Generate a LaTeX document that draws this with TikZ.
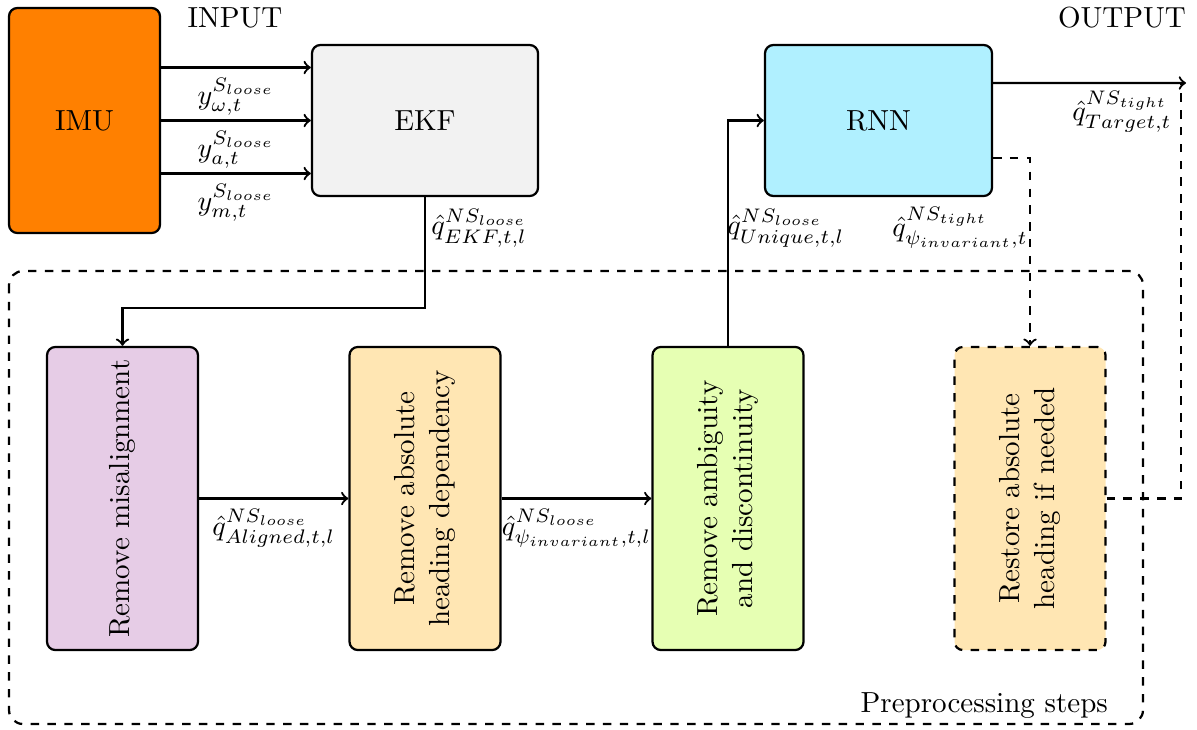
\documentclass[tikz,border=0pt]{standalone}
\usetikzlibrary{calc}
\definecolor{imuorange}{HTML}{FF8000}
\definecolor{ekfgray}{HTML}{F2F2F2}
\definecolor{rnncyan}{HTML}{B0F0FF}
\definecolor{stepviolet}{HTML}{E6CCE6}
\definecolor{steporange}{HTML}{FFE6B3}
\definecolor{steplime}{HTML}{E6FFB3}
\begin{document}
\begin{tikzpicture}[x=0.01253cm,y=-0.01253cm,
  font=\fontsize{10.35}{12.5}\selectfont,
  blockbox/.style={draw=black,thick,rounded corners=3pt,align=center,inner sep=0pt},
  topbox/.style={blockbox,minimum width=2.832cm,minimum height=1.892cm},
  stepbox/.style={blockbox,minimum width=1.892cm,minimum height=3.797cm},
  flow/.style={thick,->},
  lbl/.style={inner sep=1pt},
  lblbelow/.style={lbl,below=2.5pt}]
\useasboundingbox (0,0) rectangle (1197,729);

% outer group of preprocessing steps
\draw[thick,dashed,rounded corners=5pt] (9,271) rectangle (1143,724);
\node[anchor=south east,inner sep=2pt] (prep) at (1114,725) {Preprocessing steps};

% headings
\node (input) at (235,18) {INPUT};
\node (output) at (1122,18) {OUTPUT};

% top row
\node[blockbox,fill=imuorange,minimum width=1.892cm,minimum height=2.819cm] (IMU) at (84.5,120.5) {IMU};
\node[topbox,fill=ekfgray] (EKF) at (425,120.5) {EKF};
\node[topbox,fill=rnncyan,minimum width=2.844cm] (RNN) at (878.5,120.5) {RNN};

% preprocessing steps
\node[stepbox,fill=stepviolet] (Mis) at (122.5,498.5) {\rotatebox{90}{Remove misalignment}};
\node[stepbox,fill=steporange] (Head) at (425,498.5) {\rotatebox{90}{\begin{tabular}{c}Remove absolute\\heading dependency\end{tabular}}};
\node[stepbox,fill=steplime] (Amb) at (728,498.5) {\rotatebox{90}{\begin{tabular}{c}Remove ambiguity\\and discontinuity\end{tabular}}};
\node[stepbox,fill=steporange,dashed] (Restore) at (1030,498.5) {\rotatebox{90}{\begin{tabular}{c}Restore absolute\\heading if needed\end{tabular}}};

% sensor signals into the EKF
\draw[flow] ([yshift=0.664cm]IMU.east) -- node[lblbelow] {$y_{\omega,t}^{S_{loose}}$} ([yshift=0.664cm]EKF.west);
\draw[flow] (IMU.east) -- node[lblbelow] {$y_{a,t}^{S_{loose}}$} (EKF.west);
\draw[flow] ([yshift=-0.664cm]IMU.east) -- node[lblbelow] {$y_{m,t}^{S_{loose}}$} ([yshift=-0.664cm]EKF.west);

% EKF estimate down to the first step
\coordinate (ekfturn) at (425,308);
\draw[flow] (EKF.south) -- (ekfturn) -| (Mis.north);
\node[lbl,anchor=west] (lekf) at (428,228) {$\hat{q}_{EKF,t,l}^{NS_{loose}}$};

% chain of steps
\draw[flow] (Mis.east) -- node[lblbelow] {$\hat{q}_{Aligned,t,l}^{NS_{loose}}$} (Head.west);
\draw[flow] (Head.east) -- node[lblbelow] {$\hat{q}_{\psi_{invariant},t,l}^{NS_{loose}}$} (Amb.west);

% unique quaternion into the RNN
\draw[flow] (Amb.north) |- (RNN.west);
\node[lbl,anchor=west] (luni) at (724,228) {$\hat{q}_{Unique,t,l}^{NS_{loose}}$};

% RNN output
\coordinate (outend) at (1186,83);
\draw[flow] ([yshift=0.47cm]RNN.east) -- (outend);
\node[lbl,anchor=north east] (ltarget) at (1175,88) {$\hat{q}_{Target,t}^{NS_{tight}}$};

% optional heading restoration
\draw[thick,dashed,->] ([yshift=-0.47cm]RNN.east) -| (Restore.north);
\node[lbl,anchor=east] (lpsi) at (1031,228) {$\hat{q}_{\psi_{invariant},t}^{NS_{tight}}$};
\draw[thick,dashed] (Restore.east) -| ([xshift=-0.06cm]outend);
\end{tikzpicture}
\end{document}
